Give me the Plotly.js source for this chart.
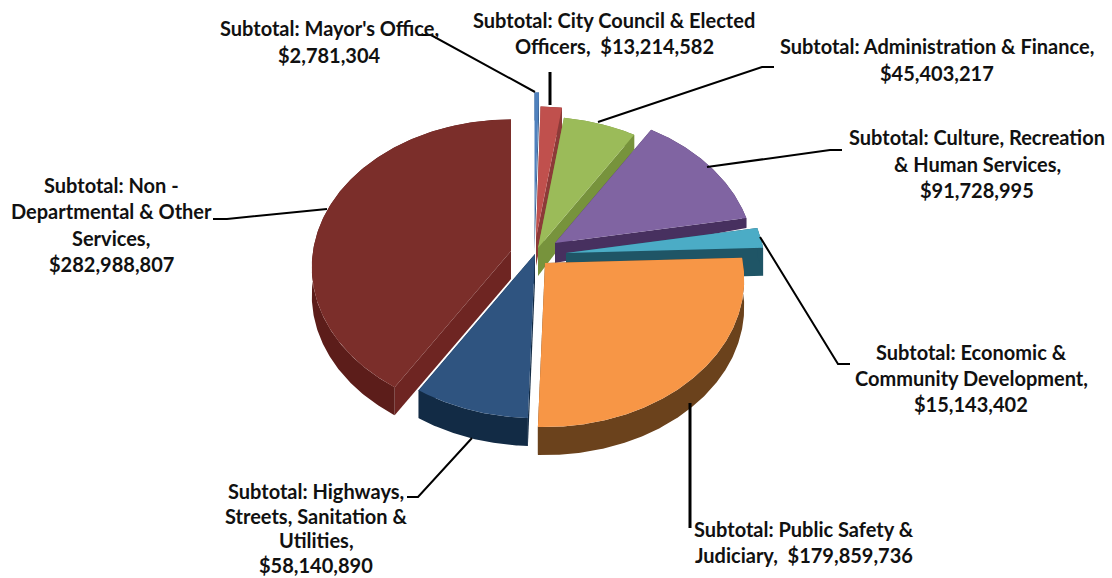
<!DOCTYPE html>
<html>
<head>
<meta charset="utf-8">
<script src="https://cdn.plot.ly/plotly-3.0.1.min.js"></script>
<style>
html, body { margin: 0; padding: 0; background: #fff; }
#chart { width: 1112px; height: 578px; }
</style>
</head>
<body>
<div id="chart"></div>
<script>
// Budget subtotals, clockwise from twelve o'clock
const categories = [
  "Mayor's Office", "City Council & Elected Officers", "Administration & Finance",
  "Culture, Recreation & Human Services", "Economic & Community Development",
  "Public Safety & Judiciary", "Highways, Streets, Sanitation & Utilities",
  "Non - Departmental & Other Services"
];
const values = [2781304, 13214582, 45403217, 91728995, 15143402, 179859736, 58140890, 282988807];

// Label text per slice; the formatted value is added afterwards
const labelHeads = [
  ["Subtotal: Mayor's Office,"],
  ["Subtotal: City Council & Elected"],
  ["Subtotal: Administration & Finance,"],
  ["Subtotal: Culture, Recreation", "& Human Services,"],
  ["Subtotal: Economic &", "Community Development,"],
  ["Subtotal: Public Safety &"],
  ["Subtotal: Highways,", "Streets, Sanitation &", "Utilities,"],
  ["Subtotal: Non -", "Departmental & Other", "Services,"]
];
const valuePrefixes = ["", "Officers,\u00a0\u00a0", "", "", "", "Judiciary,\u00a0\u00a0", "", ""];

// Slice styling
const topColors  = ["#4f81bd", "#c0504d", "#9bbb59", "#8064a2", "#4bacc6", "#f79646", "#2f5480", "#7b2e2a"];
const rimColors  = ["#3a6090", "#8c3a38", "#77933c", "#47305f", "#1f5566", "#6b421c", "#122b45", "#5c1d1a"];
const edgeColors = ["#3a6090", "#8c3a38", "#77933c", "#47305f", "#1f5566", "#6b421c", "#122b45", "#6e2522"];

// Layout of the exploded disc, in page pixels
const apexX = [534.5, 536, 538, 555, 566, 545, 535, 511];
const apexY = [224, 238, 248, 243, 253, 263, 254, 251];
const radiusX = 198, radiusY = 146, perspective = 0.11;
const apexDepth = [28, 28, 28, 20, 28, 28, 28, 28];
const rimDepth  = [28, 28, 15, 10, 28, 28, 28, 28];

// Label block centres and first-line positions
const labelCenterX = [329, 614, 937, 977, 971, 804, 316, 111];
const labelTopY = [28, 20, 46, 137, 352, 529, 491, 185];
const lineStep = [27, 26, 26.5, 26.5, 26, 26, 24.7, 26.3];

// Leader line routes
const leaderX = [[418, 431, 535], [550, 550], [598, 762, 774], [707, 830, 842], [760, 838, 850], [690, 690], [472, 418, 407], [327, 227, 213]];
const leaderY = [[35, 35, 92], [72, 105], [122, 67, 67], [167, 150, 150], [237, 364, 364], [403, 528], [438, 497, 497], [209, 219, 219]];
const leaderWidth = [2, 3, 2, 2, 2, 3, 2, 2];

const total = values.reduce((a, b) => a + b, 0);
const toRad = Math.PI / 180;

function rimPoint(i, deg, drop) {
  const t = deg * toRad;
  const p = 1 / (1 + perspective * Math.cos(t));
  return [apexX[i] + radiusX * Math.sin(t) * p, apexY[i] - radiusY * Math.cos(t) * p + drop];
}

function arc(i, from, to, drop) {
  const n = Math.max(2, Math.ceil(Math.abs(to - from) * 2));
  const pts = [];
  for (let k = 0; k <= n; k++) pts.push(rimPoint(i, from + (to - from) * k / n, drop));
  return pts;
}

function polygon(pts, color, name) {
  const first = pts[0];
  return {
    type: "scatter", mode: "lines",
    x: pts.map(p => p[0]).concat(first[0]),
    y: pts.map(p => p[1]).concat(first[1]),
    fill: "toself", fillcolor: color,
    line: { width: 0, color: color },
    hoverinfo: "text", text: name, showlegend: false
  };
}

// Back slices first so the front ones overlap them
const paintOrder = [0, 1, 2, 3, 4, 7, 6, 5];
const cumulative = [];
let running = 0;
values.forEach(v => { cumulative.push(running); running += v / total * 360; });

const traces = [];
paintOrder.forEach(i => {
  const a = cumulative[i], b = a + values[i] / total * 360;
  const apex = [apexX[i], apexY[i]];
  const apexLow = [apexX[i], apexY[i] + apexDepth[i]];
  const name = categories[i];
  traces.push(polygon([apex, rimPoint(i, a, 0), rimPoint(i, a, rimDepth[i]), apexLow], edgeColors[i], name));
  traces.push(polygon([apex, rimPoint(i, b, 0), rimPoint(i, b, rimDepth[i]), apexLow], edgeColors[i], name));
  traces.push(polygon(arc(i, a, b, 0).concat(arc(i, b, a, rimDepth[i])), rimColors[i], name));
  traces.push(polygon([apex].concat(arc(i, a, b, 0)), topColors[i], name));
});

leaderX.forEach((xs, i) => {
  traces.push({
    type: "scatter", mode: "lines", x: xs, y: leaderY[i],
    line: { color: "#000", width: leaderWidth[i] },
    hoverinfo: "skip", showlegend: false
  });
});

function money(v) { return "$" + v.toLocaleString("en-US"); }

const annotations = [];
labelHeads.forEach((head, i) => {
  const lines = head.concat(valuePrefixes[i] + money(values[i]));
  lines.forEach((text, k) => {
    annotations.push({
      x: labelCenterX[i], y: labelTopY[i] + k * lineStep[i],
      xref: "x", yref: "y", xanchor: "center", yanchor: "middle",
      text: text, showarrow: false,
      font: { family: "Lato, 'Open Sans', sans-serif", size: 20, color: "#111", weight: 700 }
    });
  });
});

const hiddenAxis = { visible: false, fixedrange: true };
Plotly.newPlot("chart", traces, {
  width: 1112, height: 578,
  margin: { l: 0, r: 0, t: 0, b: 0 },
  paper_bgcolor: "#fff", plot_bgcolor: "#fff",
  showlegend: false,
  xaxis: Object.assign({ range: [0, 1112] }, hiddenAxis),
  yaxis: Object.assign({ range: [578, 0] }, hiddenAxis),
  annotations: annotations
}, { displayModeBar: false, responsive: false });
</script>
</body>
</html>
